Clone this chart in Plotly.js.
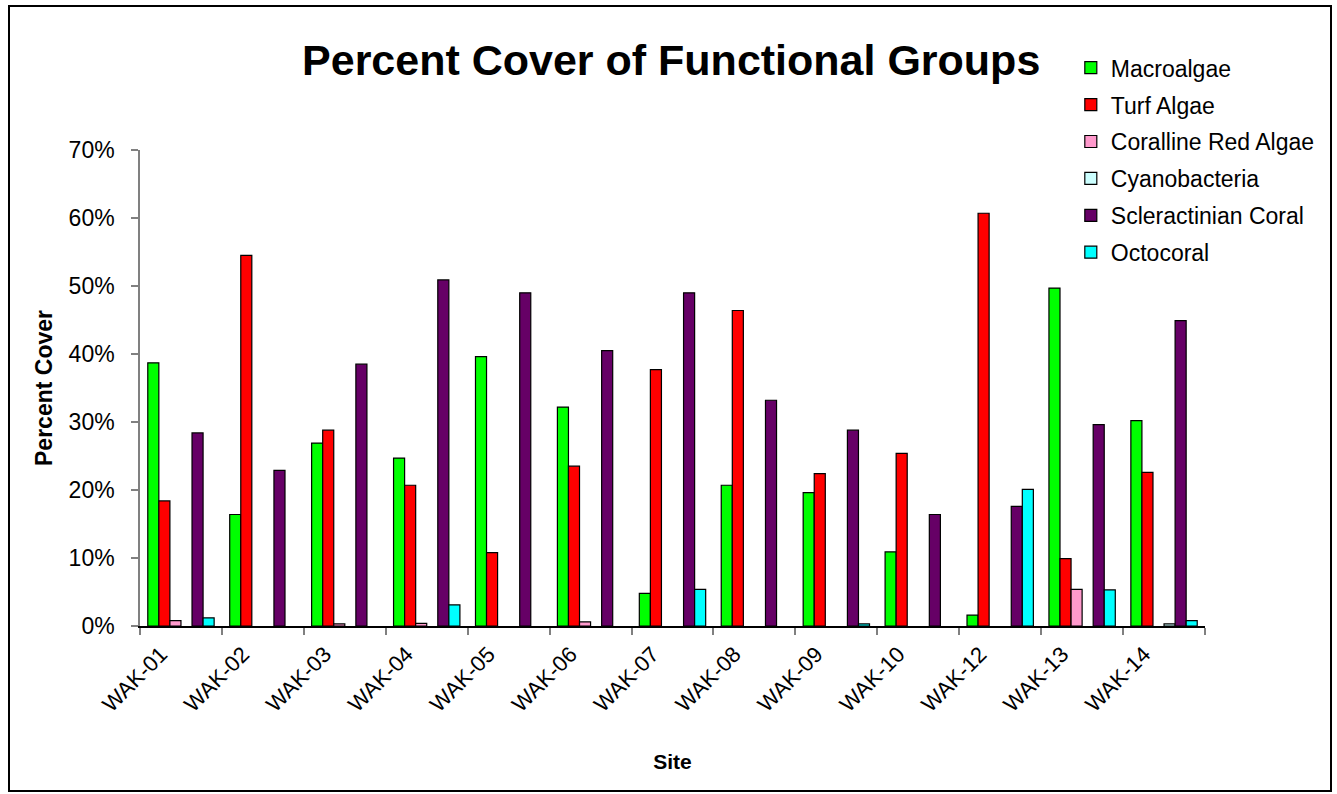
<!DOCTYPE html>
<html>
<head>
<meta charset="utf-8">
<script src="https://cdn.plot.ly/plotly-3.0.1.min.js"></script>
<style>
  html, body { margin: 0; padding: 0; background: #ffffff; }
  #wrap { position: relative; width: 1337px; height: 794px; }
  #chart { width: 1337px; height: 794px; }
  #frame {
    position: absolute; left: 8px; top: 5px; width: 1320px; height: 783px;
    border: 2px solid #000000; pointer-events: none;
  }
</style>
</head>
<body>
<div id="wrap">
  <div id="chart"></div>
  <div id="frame"></div>
</div>
<script>
// Survey sites
const sites = ["WAK-01", "WAK-02", "WAK-03", "WAK-04", "WAK-05", "WAK-06", "WAK-07",
               "WAK-08", "WAK-09", "WAK-10", "WAK-12", "WAK-13", "WAK-14"];

// Percent cover by functional group (%)
const macroalgae   = [38.7, 16.4, 26.9, 24.7, 39.6, 32.2, 4.8, 20.7, 19.6, 10.9, 1.6, 49.7, 30.2];
const turfAlgae    = [18.4, 54.5, 28.8, 20.7, 10.8, 23.5, 37.7, 46.4, 22.4, 25.4, 60.7, 9.9, 22.6];
const corallineRed = [0.8, 0, 0.3, 0.4, 0, 0.6, 0, 0, 0, 0, 0, 5.4, 0];
const cyanobacteria = [0, 0, 0, 0, 0, 0, 0, 0, 0, 0, 0, 0, 0.3];
const scleractinian = [28.4, 22.9, 38.5, 50.9, 49.0, 40.5, 49.0, 33.2, 28.8, 16.4, 17.6, 29.6, 44.9];
const octocoral    = [1.2, 0, 0, 3.1, 0, 0, 5.4, 0, 0.3, 0, 20.1, 5.3, 0.8];

const groups = [
  { name: "Macroalgae",          values: macroalgae,    color: "#00FF00" },
  { name: "Turf Algae",          values: turfAlgae,     color: "#FF0000" },
  { name: "Coralline Red Algae", values: corallineRed,  color: "#FF99CC" },
  { name: "Cyanobacteria",       values: cyanobacteria, color: "#CCFFFF" },
  { name: "Scleractinian Coral", values: scleractinian, color: "#660066" },
  { name: "Octocoral",           values: octocoral,     color: "#00FFFF" }
];

const FONT = '"Liberation Sans", Arial, sans-serif';

// Zero cover is left blank rather than drawn as a flat outline on the axis
const traces = groups.map((g, i) => ({
  type: "bar",
  name: g.name,
  x: sites,
  y: g.values.map(v => (v === 0 ? null : v)),
  legendgroup: "g" + i,
  marker: { color: g.color, line: { color: "#000000", width: 1.2 } },
  hoverinfo: "x+y+name"
}));

const layout = {
  width: 1337,
  height: 794,
  paper_bgcolor: "#ffffff",
  plot_bgcolor: "#ffffff",
  margin: { l: 140, r: 132, t: 150, b: 168, pad: 0 },
  font: { family: FONT, color: "#000000", size: 22 },
  barmode: "group",
  bargap: 0.19,
  bargroupgap: 0,
  showlegend: true,
  title: {
    text: "<b>Percent Cover of Functional Groups</b>",
    font: { family: FONT, size: 43, color: "#000000" },
    x: 0.502, xref: "container", xanchor: "center",
    y: 0.925, yref: "container", yanchor: "middle"
  },
  legend: {
    x: 0.874, xanchor: "left",
    y: 1.218, yanchor: "top",
    font: { family: FONT, size: 23, color: "#000000" },
    bgcolor: "rgba(0,0,0,0)",
    traceorder: "grouped",
    tracegroupgap: 4,
    itemwidth: 30
  },
  xaxis: {
    type: "category",
    showgrid: false,
    zeroline: false,
    showline: true,
    linecolor: "#000000",
    linewidth: 1.5,
    ticks: "outside",
    tickson: "boundaries",
    ticklen: 7,
    tickcolor: "#808080",
    tickwidth: 1.5,
    tickangle: -45,
    ticklabelshift: -20,
    ticklabelstandoff: 5,
    tickfont: { family: FONT, size: 22, color: "#000000" },
    title: { text: "<b>Site</b>", font: { family: FONT, size: 21 }, standoff: 38 }
  },
  yaxis: {
    range: [0, 70],
    dtick: 10,
    ticksuffix: "%",
    showgrid: false,
    zeroline: false,
    showline: true,
    linecolor: "#808080",
    linewidth: 1.5,
    ticks: "outside",
    ticklen: 7,
    tickcolor: "#808080",
    tickwidth: 1.5,
    ticklabelstandoff: 12,
    tickfont: { family: FONT, size: 23, color: "#000000" },
    title: { text: "<b>Percent Cover</b>", font: { family: FONT, size: 23 }, standoff: 10 }
  }
};

Plotly.newPlot("chart", traces, layout, { displayModeBar: false });
</script>
</body>
</html>
